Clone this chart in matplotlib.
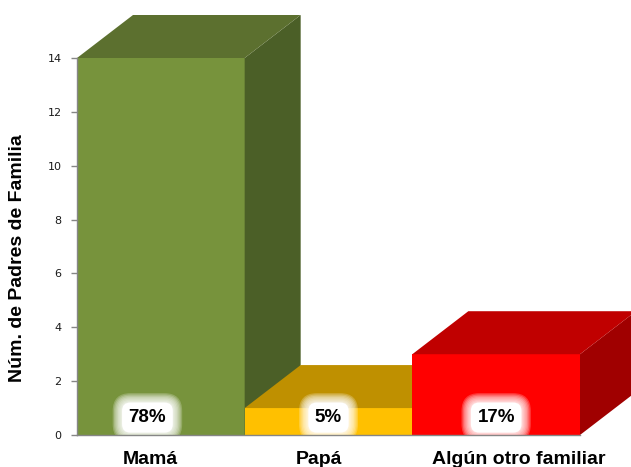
import matplotlib
matplotlib.use("Agg")
import matplotlib.pyplot as plt

# ---- data ----
categories = ['Mamá', 'Papá', 'Algún otro familiar']
values = [14, 1, 3]
pct_labels = ['78%', '5%', '17%']
y_ticks = [0, 2, 4, 6, 8, 10, 12, 14]
y_label = 'Núm. de Padres de Familia'

# ---- styles ----
front_colors = ['#77933C', '#FFC000', '#FF0000']
top_colors = ['#5C702F', '#BF9000', '#C00000']
side_colors = ['#4B5F27', '#9F7800', '#A00000']
label_dx = [-0.08, 0.0, 0.0]          # pct label horizontal shift (bar units)
tick_dx = [-0.063, -0.057, 0.135]     # category label horizontal shift
depth_px = (56, 43)                   # 3D depth offset in pixels

W, H = 631, 467
fig = plt.figure(figsize=(W / 100, H / 100), dpi=100)
ax = fig.add_axes([77 / W, 32 / H, 503 / W, 377 / H])
ax.set_xlim(0, 3)
ax.set_ylim(0, 14)

dx = depth_px[0] * 3 / 503
dy = depth_px[1] * 14 / 377

font = 'Liberation Sans'

for i, (v, fc, tc, sc) in enumerate(zip(values, front_colors, top_colors, side_colors)):
    x0, x1 = i, i + 1
    z = 2 + i * 3
    ax.fill([x0, x1, x1, x0], [0, 0, v, v], color=fc, lw=0, zorder=z, clip_on=False)
    ax.fill([x1, x1 + dx, x1 + dx, x1], [0, dy, v + dy, v], color=sc, lw=0,
            zorder=z + 1, clip_on=False)
    ax.fill([x0, x1, x1 + dx, x0 + dx], [v, v, v + dy, v + dy], color=tc, lw=0,
            zorder=z + 2, clip_on=False)

# percentage labels with soft white glow
glow_pads = [0.85, 0.78, 0.71, 0.64, 0.57, 0.5, 0.44, 0.39]
for i, lab in enumerate(pct_labels):
    x = i + 0.5 + label_dx[i]
    y = 0.48
    for pad in glow_pads:
        ax.text(x, y, lab, ha='center', va='baseline', fontsize=13.5, fontweight='bold',
                family=font, color='none', zorder=20,
                bbox=dict(boxstyle=f'round,pad={pad},rounding_size={pad + 0.1}',
                          fc='white', ec='none', alpha=0.22))
    ax.text(x, y, lab, ha='center', va='baseline', fontsize=13.5, fontweight='bold',
            family=font, color='black', zorder=21,
            bbox=dict(boxstyle='round,pad=0.35,rounding_size=0.45', fc='white', ec='none'))

# category labels
for i, cat in enumerate(categories):
    ax.text(i + 0.5 + tick_dx[i], -1.08, cat, ha='center', va='baseline', fontsize=14,
            fontweight='bold', family=font, color='black', clip_on=False)

for s in ['top', 'right']:
    ax.spines[s].set_visible(False)
for s in ['left', 'bottom']:
    ax.spines[s].set_color('#868686')
    ax.spines[s].set_linewidth(1.0)
    ax.spines[s].set_zorder(30)
ax.set_xticks([])
ax.set_yticks(y_ticks)
ax.set_yticklabels([str(t) for t in y_ticks], fontsize=8, family='DejaVu Sans',
                   color='#1a1a1a')
ax.tick_params(axis='y', direction='out', length=4, width=1, color='#868686', pad=7)
ax.patch.set_alpha(0)

fig.text(18 / W, 1 - 258 / H, y_label, rotation=90, ha='center', va='center',
         fontsize=14, fontweight='bold', family=font, color='black')

fig.savefig('out.png', dpi=100)
